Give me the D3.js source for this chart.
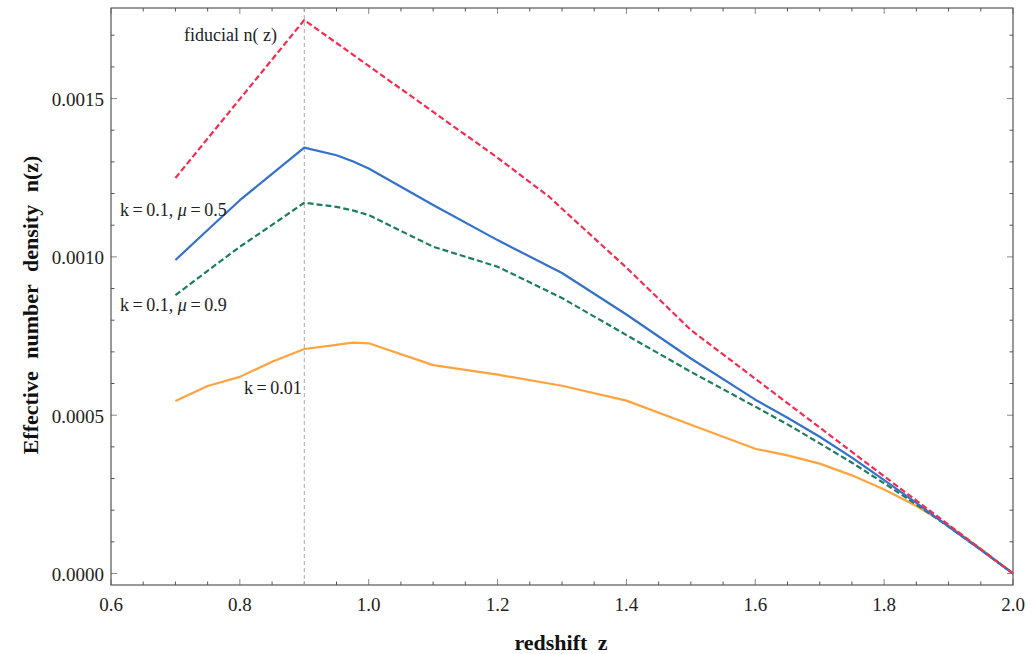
<!DOCTYPE html>
<html><head><meta charset="utf-8">
<script src="https://cdn.jsdelivr.net/npm/d3@7"></script>
<style>body{margin:0;background:#fff}svg{display:block}text{font-family:"Liberation Serif","DejaVu Serif",serif}</style>
</head><body><svg id="c" width="1032" height="654"></svg>
<script>
const zFid = [0.7, 0.9, 1.0, 1.1, 1.2, 1.28, 1.3, 1.4, 1.5, 1.6, 1.7, 1.8, 1.9, 2.0];
const nFid = [1.249, 1.748, 1.603, 1.458, 1.313, 1.19, 1.152, 0.966, 0.769, 0.615, 0.461, 0.307, 0.154, 0.0];
const zK = [0.7, 0.75, 0.8, 0.85, 0.9, 0.95, 0.975, 1.0, 1.1, 1.2, 1.3, 1.4, 1.5, 1.6, 1.65, 1.7, 1.75, 1.8, 1.85, 1.9, 1.95, 2.0];
const nMu05 = [0.990, 1.085, 1.179, 1.262, 1.345, 1.321, 1.302, 1.279, 1.164, 1.053, 0.949, 0.818, 0.679, 0.549, 0.492, 0.432, 0.366, 0.295, 0.223, 0.148, 0.075, 0.0];
const nMu09 = [0.879, 0.956, 1.032, 1.101, 1.171, 1.158, 1.147, 1.132, 1.032, 0.969, 0.870, 0.753, 0.637, 0.527, 0.471, 0.411, 0.350, 0.285, 0.218, 0.148, 0.075, 0.0];
const nK001 = [0.545, 0.592, 0.621, 0.669, 0.709, 0.722, 0.729, 0.727, 0.658, 0.628, 0.593, 0.546, 0.470, 0.394, 0.373, 0.347, 0.310, 0.265, 0.213, 0.152, 0.078, 0.0];
const xTicks = [0.6, 0.8, 1.0, 1.2, 1.4, 1.6, 1.8, 2.0];
const yTicks = [0, 0.0005, 0.0010, 0.0015];
const zPeak = 0.9;

const svg = d3.select("#c");
const L = 111, R = 1013, T = 8, B = 585;
const x = d3.scaleLinear().domain([0.6, 2.0]).range([L, R]);
const y = d3.scaleLinear().domain([-0.0000363, 0.001786]).range([B, T]);

// frame ticks
const g = svg.append("g");
const minorX = d3.range(0.6, 2.0001, 0.05);
const minorY = d3.range(0, 0.00178, 0.0001);
const frame = "#555";
minorX.forEach(v => {
  const major = xTicks.some(t => Math.abs(t - v) < 1e-6);
  const len = major ? 6 : 3.5, col = major ? "#888" : frame;
  g.append("line").attr("x1", x(v)).attr("x2", x(v)).attr("y1", B).attr("y2", B - len).attr("stroke", col);
  g.append("line").attr("x1", x(v)).attr("x2", x(v)).attr("y1", T).attr("y2", T + len).attr("stroke", col);
});
minorY.forEach(v => {
  const major = yTicks.some(t => Math.abs(t - v) < 1e-9);
  const len = major ? 6 : 3.5, col = major ? "#888" : frame;
  g.append("line").attr("x1", L).attr("x2", L + len).attr("y1", y(v)).attr("y2", y(v)).attr("stroke", col);
  g.append("line").attr("x1", R).attr("x2", R - len).attr("y1", y(v)).attr("y2", y(v)).attr("stroke", col);
});
g.append("rect").attr("x", L).attr("y", T).attr("width", R - L).attr("height", B - T)
  .attr("fill", "none").attr("stroke", frame).attr("stroke-width", 1.2);

// tick labels
xTicks.forEach(t => svg.append("text").attr("x", x(t)).attr("y", 611).attr("text-anchor", "middle")
  .attr("font-size", 19).attr("fill", "#222").text(t.toFixed(1)));
yTicks.forEach(t => svg.append("text").attr("x", 104).attr("y", y(t) + 7.5).attr("text-anchor", "end")
  .attr("font-size", 19).attr("fill", "#222").text(t.toFixed(4)));

// axis titles
svg.append("text").attr("x", 561).attr("y", 650).attr("text-anchor", "middle")
  .attr("font-size", 22).attr("font-weight", "bold").attr("fill", "#111").attr("word-spacing", 5).text("redshift z");
svg.append("text").attr("transform", "translate(38,305) rotate(-90)").attr("text-anchor", "middle")
  .attr("font-size", 22).attr("font-weight", "bold").attr("fill", "#111").attr("word-spacing", 7).text("Effective number density n(z)");

// vertical dashed line
svg.append("line").attr("x1", x(zPeak)).attr("x2", x(zPeak)).attr("y1", T).attr("y2", B)
  .attr("stroke", "#aaa").attr("stroke-width", 1).attr("stroke-dasharray", "4,3");

const line = d3.line().x(d => x(d[0])).y(d => y(d[1] * 1e-3));
const series = [
  {z: zK, n: nK001, color: "#ffa33f", dash: null},
  {z: zK, n: nMu09, color: "#1e7d5e", dash: "6,3"},
  {z: zK, n: nMu05, color: "#3471c9", dash: null},
  {z: zFid, n: nFid, color: "#f52c50", dash: "6,3"}
];
series.forEach(s => {
  svg.append("path").datum(s.z.map((z, i) => [z, s.n[i]])).attr("d", line)
    .attr("fill", "none").attr("stroke", s.color).attr("stroke-width", 2.2)
    .attr("stroke-dasharray", s.dash).attr("stroke-linejoin", "round");
});

// annotations
function label(xp, yp, parts) {
  const t = svg.append("text").attr("x", xp).attr("y", yp).attr("font-size", 18).attr("fill", "#222");
  parts.forEach(p => t.append("tspan").attr("font-style", p[1] ? "italic" : null).text(p[0]));
}
label(184, 41, [["fiducial  n( z)", false]]);
label(120, 216, [["k\u2009=\u20090.1,  ", false], ["μ", true], ["\u2009=\u20090.5", false]]);
label(120, 311, [["k\u2009=\u20090.1,  ", false], ["μ", true], ["\u2009=\u20090.9", false]]);
label(244, 394, [["k\u2009=\u20090.01", false]]);
</script></body></html>
